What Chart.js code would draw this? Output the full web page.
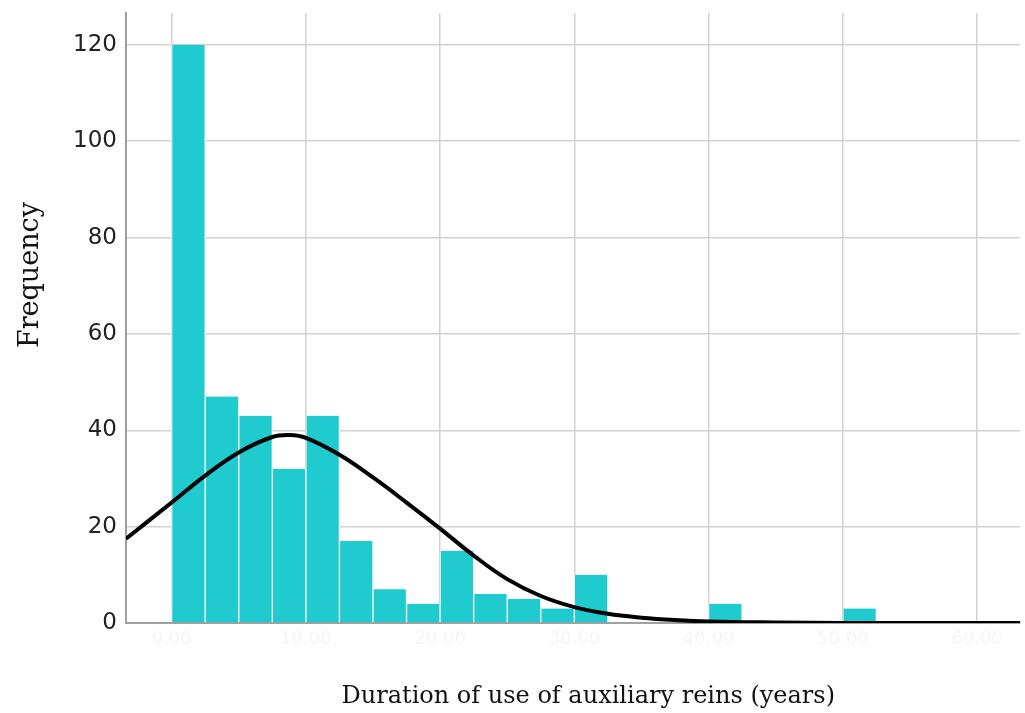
<!DOCTYPE html>
<html>
<head>
<meta charset="utf-8">
<script src="https://cdn.jsdelivr.net/npm/chart.js@4/dist/chart.umd.min.js"></script>
<style>
  html, body { margin: 0; padding: 0; background: #fff; }
  #wrap { width: 1025px; height: 713px; }
</style>
</head>
<body>
<div id="wrap"><canvas id="grafic"></canvas></div>
<script>
// histogram bins (2.5 years wide), centre of each bin
const binCenters = [1.25, 3.75, 6.25, 8.75, 11.25, 13.75, 16.25, 18.75, 21.25, 23.75, 26.25,
  28.75, 31.25, 33.75, 36.25, 38.75, 41.25, 43.75, 46.25, 48.75, 51.25];
const frecvente = [120, 47, 43, 32, 43, 17, 7, 4, 15, 6, 5, 3, 10, 0, 0, 0, 4, 0, 0, 0, 3];

// normal curve
const curbaX = [-3.4, 0, 2.5, 5, 7.5, 8.8, 10, 12.5, 15, 17.5, 20, 22.5, 25, 27.5, 30, 32.5, 35, 37.5, 40, 45, 50, 55, 63.2];
const curbaY = [17.5, 25, 30.6, 35.4, 38.6, 39, 38.4, 34.9, 30.2, 25, 19.6, 14, 9.1, 5.6, 3.3, 1.9, 1.1, 0.6, 0.3, 0.1, 0, 0, 0];

const xTicks = [0, 10, 20, 30, 40, 50, 60];
const xTickLabels = ['0.00', '10.00', '20.00', '30.00', '40.00', '50.00', '60.00'];
const yTicks = [0, 20, 40, 60, 80, 100, 120];

const culoareBara = '#1fcbcf';
const culoareGrid = '#d2d2d2';

new Chart(document.getElementById('grafic'), {
  type: 'bar',
  data: {
    datasets: [
      {
        type: 'line',
        data: curbaX.map((x, i) => ({ x, y: curbaY[i] })),
        borderColor: '#000',
        borderWidth: 4,
        pointRadius: 0,
        tension: 0.4,
        order: 0
      },
      {
        data: binCenters.map((x, i) => ({ x, y: frecvente[i] })),
        backgroundColor: culoareBara,
        borderColor: '#fff',
        borderWidth: { left: 1, right: 1, top: 0, bottom: 0 },
        barPercentage: 1,
        categoryPercentage: 1,
        order: 1
      }
    ]
  },
  options: {
    responsive: true,
    maintainAspectRatio: false,
    animation: false,
    layout: { padding: { left: 0, right: 5, top: 13, bottom: 0 } },
    plugins: { legend: { display: false }, tooltip: { enabled: false } },
    scales: {
      x: {
        type: 'linear',
        offset: false,
        min: -3.4,
        max: 63.2,
        afterBuildTicks: (s) => { s.ticks = xTicks.map((v) => ({ value: v })); },
        afterFit: (s) => { s.height = 90; s.paddingLeft = 0; s.paddingRight = 0; },
        grid: { color: culoareGrid, lineWidth: 1.5, drawTicks: false, offset: false },
        border: { color: '#a0a0a0', width: 2 },
        ticks: {
          color: '#f6f6f6',
          padding: 6,
          font: { family: 'DejaVu Sans', size: 18 },
          callback: (v) => xTickLabels[xTicks.indexOf(v)] ?? ''
        },
        title: {
          display: true,
          // leading spaces nudge the title right, like in the original
          text: '    Duration of use of auxiliary reins (years)',
          color: '#111',
          font: { family: 'DejaVu Serif', size: 24 },
          padding: { top: 0, bottom: 2 }
        }
      },
      y: {
        min: 0,
        max: 126.6,
        afterBuildTicks: (s) => { s.ticks = yTicks.map((v) => ({ value: v })); },
        afterFit: (s) => { s.width = 126; s.paddingTop = 0; s.paddingBottom = 0; },
        grid: { color: culoareGrid, lineWidth: 1.5, drawTicks: false },
        border: { color: '#a0a0a0', width: 2 },
        ticks: {
          color: '#222',
          padding: 9,
          font: { family: 'DejaVu Sans', size: 23 }
        },
        title: {
          display: true,
          // leading spaces push the word up, as in the original
          text: '          Frequency',
          color: '#111',
          font: { family: 'DejaVu Serif', size: 27 },
          padding: { top: 15, bottom: 0 }
        }
      }
    }
  }
});
</script>
</body>
</html>
